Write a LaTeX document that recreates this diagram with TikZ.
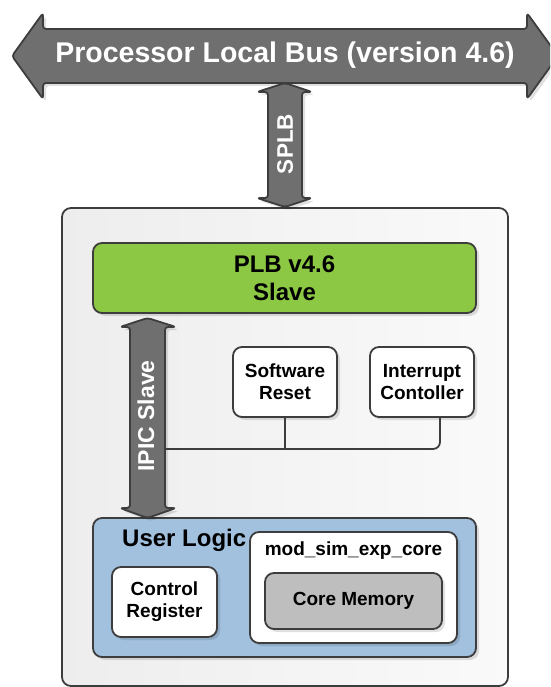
\documentclass[tikz,border=0pt]{standalone}
\usepackage{fontspec}
\setmainfont{Liberation Sans}
\usetikzlibrary{shadows}
\definecolor{busgray}{HTML}{6F6F6F}
\definecolor{edgegray}{HTML}{3D3D3D}
\definecolor{plbgreen}{HTML}{8DC844}
\definecolor{ulblue}{HTML}{A2C1DF}
\definecolor{memgray}{HTML}{BEBEBE}
\newcommand\bfsz[2]{\fontsize{#1}{#2}\selectfont\bfseries}
\tikzset{
  softshadow/.style={drop shadow={shadow xshift=3pt, shadow yshift=-3pt, fill=black, opacity=.12}},
  box/.style={draw=edgegray, line width=1.8pt, rounded corners=9pt, inner sep=0pt, align=center, softshadow},
  busarrow/.style={draw=edgegray, fill=busgray, line width=1.8pt, rounded corners=3pt, softshadow},
  buslabel/.style={text=white, inner sep=0pt},
  wire/.style={draw=edgegray, line width=1.8pt}
}
\begin{document}
\begin{tikzpicture}[x=1pt, y=-1pt, line join=round]
  \useasboundingbox (0,0) rectangle (550,687);
  \clip (0,0) rectangle (550,687);
  % processor local bus
  \draw[busarrow] (12,56) -- (43,13) -- (43,29) -- (527,29) -- (527,13) -- (558,56)
    -- (527,99) -- (527,83) -- (43,83) -- (43,99) -- cycle;
  \node[buslabel, font=\bfsz{28.5}{32}] (plbus) at (285,55) {Processor Local Bus (version 4.6)};
  % outer core box
  \draw[draw=edgegray, line width=1.8pt, rounded corners=9pt, left color=black!7, right color=black!2]
    (62,208) rectangle (508,686);
  % SPLB
  \draw[busarrow] (285,83) -- (312,92) -- (302,92) -- (302,198) -- (312,198) -- (285,207)
    -- (257,198) -- (268,198) -- (268,92) -- (257,92) -- cycle;
  \node[buslabel, rotate=90, font=\bfsz{22.5}{26}] (splb) at (285,144) {SPLB};
  % blocks
  \node[box, fill=plbgreen, minimum width=383, minimum height=70, font=\bfsz{24}{28}] (plb)
    at (284.5,278) {PLB v4.6\\Slave};
  \node[box, fill=white, minimum width=104, minimum height=70, font=\bfsz{19}{22}] (swr)
    at (285,382) {Software\\Reset};
  \node[box, fill=white, minimum width=104, minimum height=70, font=\bfsz{19}{22}] (intc)
    at (422,382) {Interrupt\\Contoller};
  \node[box, fill=ulblue, minimum width=383, minimum height=139] (ulogic) at (284.5,587.5) {};
  \node[anchor=base west, inner sep=0pt, font=\bfsz{24}{28}] (ultitle) at (122,546) {User Logic};
  \node[box, fill=white, minimum width=105, minimum height=70, font=\bfsz{19}{22}] (ctrl)
    at (164.5,602) {Control\\Register};
  \node[box, fill=white, minimum width=207, minimum height=111] (core) at (353.5,587.5) {};
  \node[anchor=base, inner sep=0pt, font=\bfsz{19}{22}] (coretitle) at (353.5,555) {mod\_sim\_exp\_core};
  \node[box, fill=memgray, minimum width=177, minimum height=56, font=\bfsz{19}{22}] (mem)
    at (353.5,601) {Core Memory};
  % IPIC slave
  \draw[busarrow] (147.5,318) -- (176,327) -- (165,327) -- (165,508) -- (176,508) -- (147.5,518)
    -- (120,508) -- (130,508) -- (130,327) -- (120,327) -- cycle;
  \node[buslabel, rotate=90, font=\bfsz{23}{26}] (ipic) at (146,416) {IPIC Slave};
  % wires
  \coordinate (ipicR) at (165,449);
  \draw[wire, rounded corners=7pt] (ipicR) -| ([xshift=18]intc.south);
  \draw[wire] (swr.south) -- (swr.south |- ipicR);
\end{tikzpicture}
\end{document}
